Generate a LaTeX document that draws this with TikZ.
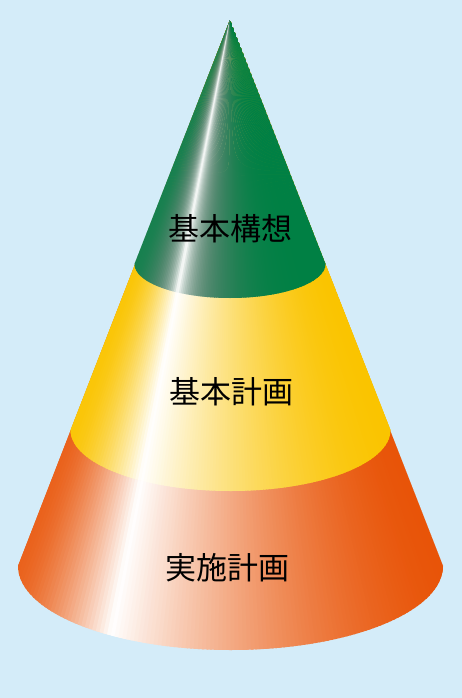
\documentclass[tikz,border=0pt]{standalone}
\usepackage{fontspec}
\newfontfamily\jp{Noto Sans CJK JP}
\definecolor{bg}{RGB}{212,236,249}
\definecolor{cor}{RGB}{232,84,8}
\definecolor{cye}{RGB}{250,196,0}
\definecolor{cgr}{RGB}{0,128,68}
\newcommand\conepaint[5]{%
  \foreach \i in {-2,...,121}{%
    \pgfmathsetmacro\t{max(0.002,min(0.998,(\i+0.5)/120))}%
    \pgfmathsetmacro\w{\t<0.25 ? #2+(100-#2)*(\t/0.25)^#3 : 100*(1-(\t-0.25)/0.75)^#4}%
    \pgfmathsetmacro\wc{100-\w}%
    \pgfmathsetmacro\kc{100-#5*(\w/50)*((100-\w)/50)}%
    \pgfmathsetmacro\xa{230+(18+3.541667*\i-230)*1.25}%
    \pgfmathsetmacro\xb{230+(18+3.541667*(\i+1.5)-230)*1.25}%
    \fill[fill={#1!\wc!white!\kc!black}] (230,-20) -- (\xa,-702.5) -- (\xb,-702.5) -- cycle;
  }%
}
\begin{document}
\begin{tikzpicture}[x=1pt,y=1pt,lbl/.style={font=\jp\fontsize{31}{36}\selectfont,text=black}]
\fill[bg] (0,0) rectangle (462,-698);
\useasboundingbox (0,0) rectangle (462,-698);
% orange band
\begin{scope}
\clip (230,-20) -- (18,-566) arc[start angle=180,end angle=360,x radius=212.5,y radius=84] -- cycle;
\conepaint{cor}{8}{1.6}{1.7}{0}
\end{scope}
% yellow band
\begin{scope}
\clip (230,-20) -- (70.5,-430) arc[start angle=180,end angle=360,x radius=160,y radius=61] -- cycle;
\conepaint{cye}{3}{1.8}{1.8}{0}
\end{scope}
% green band
\begin{scope}
\clip (230,-20) -- (134.5,-264) arc[start angle=180,end angle=360,x radius=95.5,y radius=34] -- cycle;
\conepaint{cgr}{10}{2}{4}{25}
\end{scope}
\node[lbl] (t1) at (230,-229) {基本構想};
\node[lbl] (t2) at (231,-392) {基本計画};
\node[lbl] (t3) at (227,-568) {実施計画};
\end{tikzpicture}
\end{document}
